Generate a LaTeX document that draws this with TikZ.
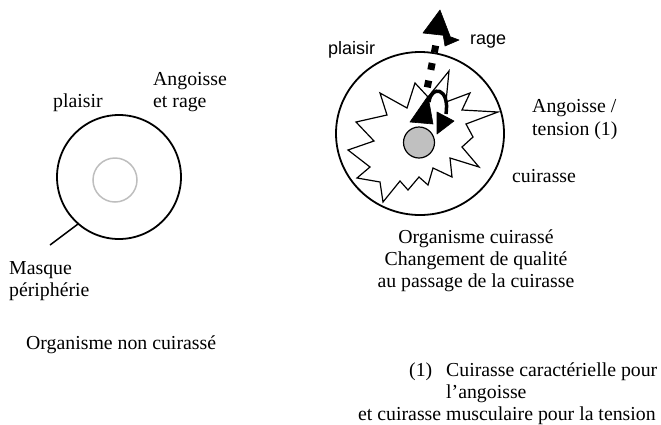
\documentclass[tikz,border=0pt]{standalone}
\usepackage{fontspec}
\setmainfont{Liberation Serif}
\newfontfamily\arialf{Liberation Sans}
\usetikzlibrary{shapes.geometric}
\definecolor{discgray}{RGB}{192,192,192}
\definecolor{ringgray}{RGB}{190,190,190}
\begin{document}
\begin{tikzpicture}[x=1pt,y=-1pt,
  lbl/.style={anchor=base west,inner sep=0pt,font=\fontsize{19.8}{22}\selectfont},
  slbl/.style={anchor=base west,inner sep=0pt,font=\arialf\fontsize{18}{20}\selectfont},
  clbl/.style={anchor=base,inner sep=0pt,font=\fontsize{19.8}{22}\selectfont},
  outline/.style={draw=black,line width=1.8pt},
  starline/.style={draw=black,line width=1.2pt,line join=miter,miter limit=20},
  blackhead/.style={fill=black,draw=black,line width=0.6pt,line join=round},
]
\useasboundingbox (0,0) rectangle (661,424);

% ---------- left : organisme non cuirasse ----------
\node[circle,outline,minimum size=124pt,inner sep=0pt,outer sep=0pt] (lc) at (119,177) {};
\node[circle,draw=ringgray,line width=1.5pt,minimum size=44pt,inner sep=0pt] (li) at (115,180) {};
\coordinate (mq) at (50,245);
\draw[line width=1.5pt] (lc.229) -- (mq);

\node[lbl] (lpl) at (53,107) {plaisir};
\node[lbl] (lan) at (153,85) {Angoisse};
\node[lbl] (ler) at (153,107) {et rage};
\node[lbl] (lma) at (9,274) {Masque};
\node[lbl] (lpe) at (9,296) {périphérie};
\node[lbl] (lor) at (26,349) {Organisme non cuirassé};

% ---------- right : organisme cuirasse ----------
\node[ellipse,outline,minimum width=168pt,minimum height=163pt,inner sep=0pt,outer sep=0pt] (rc) at (420,133.5) {};

\draw[starline] (449,71) -- (446,102) -- (470,93) -- (462,110) -- (498,112) -- (466,124)
  -- (473,137) -- (462,147) -- (479,167) -- (450,158) -- (452,177) -- (433,168)
  -- (428,185) -- (419,177) -- (408,190) -- (400,181) -- (383,202) -- (380,182)
  -- (357,178) -- (370,167) -- (348,150) -- (374,141) -- (356,122) -- (387,115)
  -- (380,93) -- (407,108) -- (415,83) -- (428,97) -- cycle;

\node[circle,draw=black,fill=discgray,line width=1.2pt,minimum size=31pt,inner sep=0pt] (core) at (419,142.5) {};

% dotted thick line to rage
\coordinate (ds) at (427.3,87.4);
\coordinate (de) at (435.7,45.6);
\draw[line width=7pt,dash pattern=on 7pt off 10.85pt] (ds) -- (de);
\fill[blackhead] (440,10) -- (423,33) -- (450,36) -- cycle;
\fill[blackhead] (443,34) -- (445,46) -- (459,40) -- cycle;

% lower arrows
\fill[blackhead] (428,96) -- (410,122) -- (433,124) -- cycle;
\draw[line width=3.5pt] (429,102) .. controls (431,85) and (450,87) .. (446,114);
\fill[blackhead] (437,134) -- (437,112) -- (454,121) -- cycle;

\node[slbl] (rpl) at (328,54) {plaisir};
\node[slbl] (rra) at (470,44) {rage};
\node[lbl] (ran) at (532,112) {Angoisse /};
\node[lbl] (rte) at (532,135) {tension (1)};
\node[lbl] (rcu) at (512,182) {cuirasse};

\node[clbl] (ro1) at (476,243) {Organisme cuirassé};
\node[clbl] (ro2) at (476,265) {Changement de qualité};
\node[clbl] (ro3) at (476,287) {au passage de la cuirasse};

\node[lbl] (fn1) at (409,376) {(1)};
\node[lbl] (fn2) at (446,376) {Cuirasse caractérielle pour};
\node[lbl] (fn3) at (446,398) {l’angoisse};
\node[lbl] (fn4) at (358,420) {et cuirasse musculaire pour la tension};
\end{tikzpicture}
\end{document}
